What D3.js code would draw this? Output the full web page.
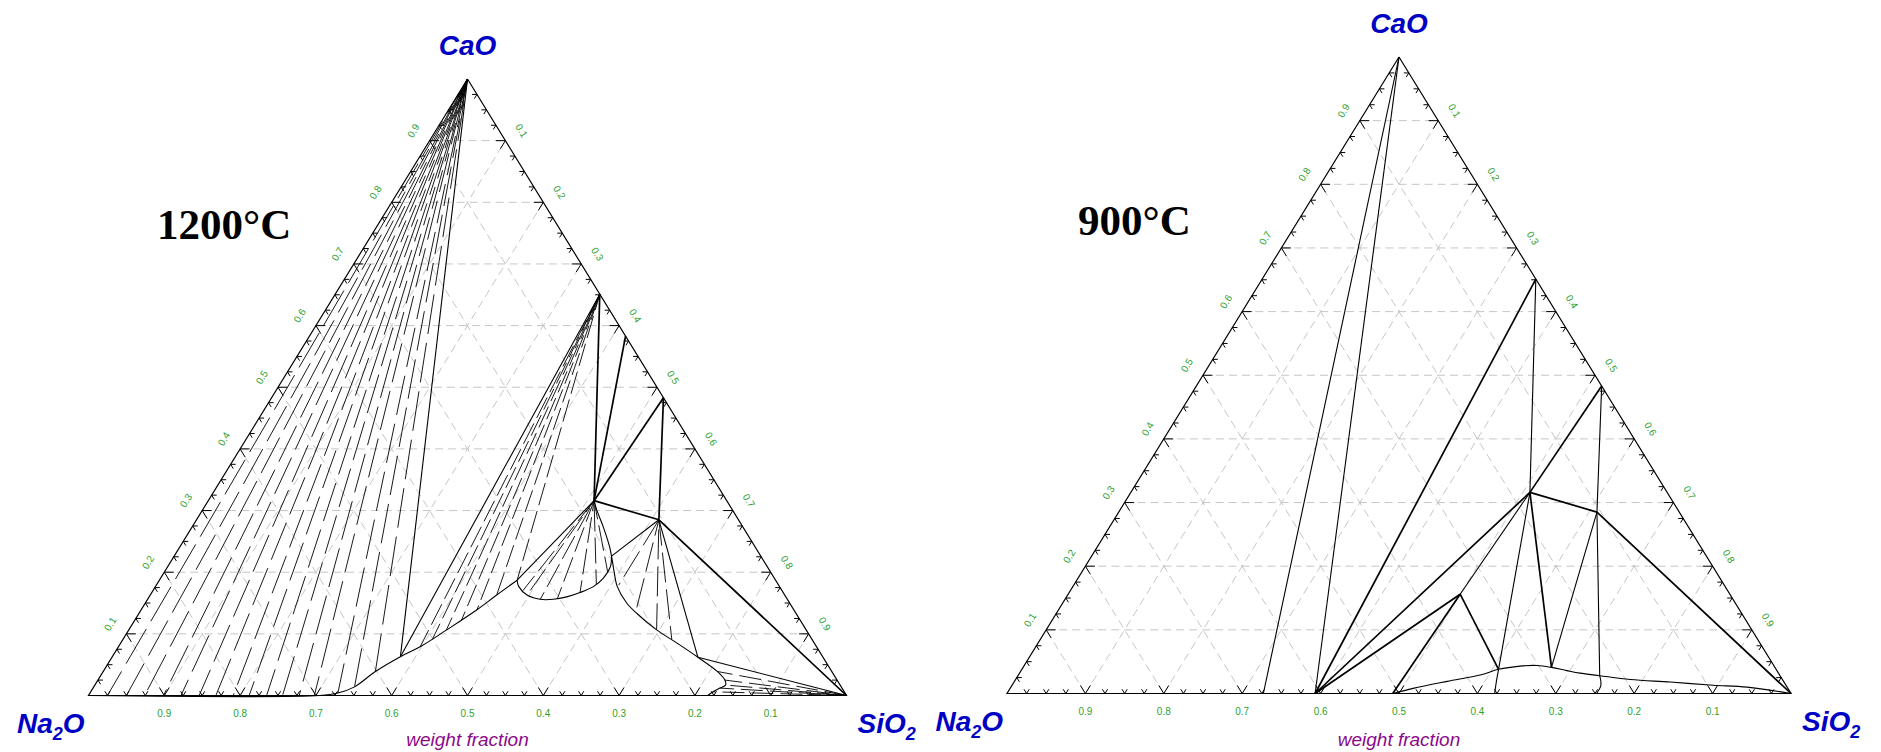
<!DOCTYPE html>
<html>
<head>
<meta charset="utf-8">
<script src="https://cdn.jsdelivr.net/npm/d3@7"></script>
<style>
  html, body { margin: 0; padding: 0; background: #fff; }
  svg { display: block; }
</style>
</head>
<body>
<svg id="chart" width="1881" height="752"></svg>
<script>
// Na2O-CaO-SiO2 isothermal sections (1200 °C and 900 °C)
// every composition is a weight-fraction pair [CaO, SiO2]; Na2O = 1 - CaO - SiO2

const tickValues = [0.1, 0.2, 0.3, 0.4, 0.5, 0.6, 0.7, 0.8, 0.9];
const tickLabels = ['0.1', '0.2', '0.3', '0.4', '0.5', '0.6', '0.7', '0.8', '0.9'];
const temperatures = ['1200°C', '900°C'];

// corners and stoichiometric compounds
const CAO = [1, 0], SIO2 = [0, 1];
const C2S = [0.651, 0.349], C3S2 = [0.583, 0.417], CS = [0.483, 0.517];
const NC2S3 = [0.316, 0.509], NC3S6 = [0.285, 0.610], N2CS3 = [0.156, 0.500];
const N2S = [0, 0.327], N3S2 = [0, 0.393], NS = [0, 0.492];

// ---- 1200 °C ----
const hiL1 = [0.063, 0.380], hiL2 = [0.187, 0.472], hiL3 = [0.226, 0.577], hiL4 = [0.062, 0.773];
const hiLiquidusLeft = [[0, 0], [0, 0.305], [0.004, 0.327], [0.014, 0.344], [0.039, 0.359], [0.063, 0.380],
  [0.079, 0.398], [0.106, 0.419], [0.139, 0.443], [0.163, 0.457], [0.187, 0.472]];
const hiLens = [[0.187, 0.472], [0.177, 0.479], [0.163, 0.497], [0.156, 0.518], [0.156, 0.535], [0.160, 0.551],
  [0.167, 0.565], [0.177, 0.578], [0.190, 0.584], [0.209, 0.584], [0.226, 0.577]];
const hiLiquidusRight = [[0.316, 0.509], [0.301, 0.520], [0.274, 0.542], [0.241, 0.567], [0.226, 0.577],
  [0.204, 0.591], [0.177, 0.609], [0.150, 0.635], [0.133, 0.657], [0.106, 0.697], [0.085, 0.734],
  [0.062, 0.773], [0.039, 0.810], [0.025, 0.827], [0.017, 0.832], [0.012, 0.827], [0.006, 0.821], [0, 0.817]];
const hiBonds = [[C2S, NC2S3], [C3S2, NC2S3], [CS, NC2S3], [CS, NC3S6], [NC2S3, NC3S6], [NC3S6, SIO2]];
const hiEdges = [[CAO, hiL1], [C2S, hiL1], [NC2S3, hiL2], [NC3S6, hiL3], [NC3S6, hiL4], [hiL4, SIO2]];
const hiCaoTies = [[0, 0.025], [0, 0.050], [0, 0.074], [0, 0.099], [0, 0.122], [0, 0.146], [0, 0.168],
  [0, 0.191], [0, 0.212], [0, 0.235], [0, 0.256], [0, 0.278], [0, 0.298],
  [0.004, 0.327], [0.014, 0.344], [0.039, 0.359]];
const hiC2STies = [[0.079, 0.398], [0.092, 0.408], [0.106, 0.419], [0.122, 0.431], [0.139, 0.443],
  [0.163, 0.457], [0.187, 0.472]];
const hiNC2S3Ties = [[0.170, 0.488], [0.163, 0.497], [0.156, 0.518], [0.157, 0.540], [0.167, 0.565],
  [0.180, 0.580], [0.200, 0.585]];
const hiNC3S6Ties = [[0.179, 0.610], [0.136, 0.654], [0.107, 0.696], [0.091, 0.724]];
const hiSilicaTies = [[0.039, 0.810], [0.025, 0.827], [0.017, 0.832], [0.012, 0.827], [0.006, 0.821]];

// ---- 900 °C ----
const loK1 = [0.038, 0.608], loK2 = [0.041, 0.674], loK3 = [0.028, 0.742];
const loLiquidus = [[0, 0.492], [0.008, 0.514], [0.019, 0.552], [0.029, 0.589], [0.038, 0.608], [0.043, 0.633],
  [0.044, 0.654], [0.041, 0.674], [0.036, 0.696], [0.032, 0.715], [0.028, 0.742], [0.022, 0.784],
  [0.018, 0.837], [0.013, 0.894], [0.010, 0.939], [0, 1]];
const loDrops = [[[0.038, 0.608], [0.021, 0.614], [0, 0.622]], [[0.028, 0.742], [0.013, 0.751], [0, 0.752]]];
const loBonds = [[C2S, N3S2], [CS, NC2S3], [NC2S3, NC3S6], [NC3S6, SIO2], [N3S2, NC2S3], [N3S2, N2CS3],
  [N2CS3, NS], [N2CS3, loK1], [NC2S3, loK2]];
const loEdges = [[CAO, N2S], [CAO, N3S2], [C2S, NC2S3], [CS, NC3S6], [NC2S3, N2CS3], [NC2S3, loK1],
  [NC3S6, loK2], [NC3S6, loK3]];

// layout of the two triangles (pixels)
const frames = [
  { left: 88.5, right: 846.5, bottom: 695.5, top: 79, titleX: 157, titleY: 239 },
  { left: 1007, right: 1791, bottom: 693.5, top: 57, titleX: 1078, titleY: 235 }
];

const svg = d3.select('#chart');

function makeProjection(frame) {
  const x = d3.scaleLinear().domain([0, 1]).range([frame.left, frame.right]);
  const y = d3.scaleLinear().domain([0, 1]).range([frame.bottom, frame.top]);
  return { x: d => x(d[1] + d[0] / 2), y: d => y(d[0]) };
}

function drawGrid(g, P) {
  const straight = d3.line().x(P.x).y(P.y);

  // dashed grid, three families
  const grid = [];
  tickValues.forEach(v => {
    grid.push([[v, 0], [v, 1 - v]]);
    grid.push([[0, v], [1 - v, v]]);
    grid.push([[0, 1 - v], [1 - v, 0]]);
  });
  g.selectAll('.grid').data(grid).enter().append('path')
    .attr('class', 'grid')
    .attr('d', straight)
    .style('fill', 'none')
    .style('stroke', '#c6c6c6')
    .style('stroke-width', 1)
    .style('stroke-dasharray', '8,5');
}

function drawAxes(g, P, frame, title) {
  const W = frame.right - frame.left;
  const H = frame.bottom - frame.top;
  const len = Math.hypot(W / 2, H);
  const theta = Math.atan2(H, W / 2) * 180 / Math.PI;

  // outline
  g.append('path')
    .attr('d', d3.line().x(P.x).y(P.y)([CAO, [0, 0], SIO2, CAO]))
    .style('fill', 'none')
    .style('stroke', '#000')
    .style('stroke-width', 1.2)
    .style('stroke-linejoin', 'miter');

  // ticks: two arms along the grid directions at every 0.025
  const edges = [
    { at: t => [0, t], arms: [[1, 0], [1, -1]] },
    { at: t => [t, 0], arms: [[0, 1], [-1, 1]] },
    { at: t => [1 - t, t], arms: [[0, -1], [-1, 0]] }
  ];
  const ticks = [];
  edges.forEach(e => {
    d3.range(1, 40).forEach(i => {
      const p = e.at(i / 40);
      const size = i % 4 === 0 ? 9.5 : 5;
      e.arms.forEach(a => {
        const q = [p[0] + a[0] * 0.01, p[1] + a[1] * 0.01];
        const dx = P.x(q) - P.x(p), dy = P.y(q) - P.y(p);
        const n = Math.hypot(dx, dy);
        ticks.push({ x1: P.x(p), y1: P.y(p), x2: P.x(p) + dx / n * size, y2: P.y(p) + dy / n * size });
      });
    });
  });
  g.selectAll('.tick').data(ticks).enter().append('line')
    .attr('class', 'tick')
    .attr('x1', d => d.x1).attr('y1', d => d.y1)
    .attr('x2', d => d.x2).attr('y2', d => d.y2)
    .style('stroke', '#000')
    .style('stroke-width', 1);

  const labelStyle = sel => sel
    .style('font-family', '"Liberation Sans", Arial, sans-serif')
    .style('font-size', '10px')
    .style('fill', '#2f9f2f')
    .style('text-anchor', 'middle')
    .style('dominant-baseline', 'central');

  // bottom: Na2O
  g.selectAll('.lab-b').data(tickValues).enter().append('text')
    .attr('class', 'lab-b')
    .attr('x', v => P.x([0, 1 - v]))
    .attr('y', frame.bottom + 18)
    .text((v, i) => tickLabels[i])
    .call(labelStyle);

  // left: CaO
  const nl = [-H / len * 19, -(W / 2) / len * 19];
  g.selectAll('.lab-l').data(tickValues).enter().append('text')
    .attr('class', 'lab-l')
    .attr('transform', v => `translate(${P.x([v, 0]) + nl[0]},${P.y([v, 0]) + nl[1]}) rotate(${-theta})`)
    .text((v, i) => tickLabels[i])
    .call(labelStyle);

  // right: SiO2
  const nr = [H / len * 19, -(W / 2) / len * 19];
  g.selectAll('.lab-r').data(tickValues).enter().append('text')
    .attr('class', 'lab-r')
    .attr('transform', v => `translate(${P.x([1 - v, v]) + nr[0]},${P.y([1 - v, v]) + nr[1]}) rotate(${theta})`)
    .text((v, i) => tickLabels[i])
    .call(labelStyle);

  // component names
  const nameStyle = sel => sel
    .style('font-family', '"Liberation Sans", Arial, sans-serif')
    .style('font-size', '28px')
    .style('font-weight', 'bold')
    .style('font-style', 'italic')
    .style('fill', '#0000c4');

  g.append('text')
    .attr('x', P.x(CAO)).attr('y', P.y(CAO) - 24)
    .style('text-anchor', 'middle')
    .text('CaO')
    .call(nameStyle);

  const na = g.append('text')
    .attr('x', frame.left - 4).attr('y', frame.bottom + 37)
    .style('text-anchor', 'end')
    .call(nameStyle);
  na.append('tspan').text('Na');
  na.append('tspan').attr('dy', 7).style('font-size', '18px').text('2');
  na.append('tspan').attr('dy', -7).text('O');

  const si = g.append('text')
    .attr('x', frame.right + 11).attr('y', frame.bottom + 37)
    .style('text-anchor', 'start')
    .call(nameStyle);
  si.append('tspan').text('SiO');
  si.append('tspan').attr('dy', 7).style('font-size', '18px').text('2');

  g.append('text')
    .attr('x', (frame.left + frame.right) / 2).attr('y', 746)
    .style('text-anchor', 'middle')
    .style('font-family', '"Liberation Sans", Arial, sans-serif')
    .style('font-size', '19px')
    .style('font-style', 'italic')
    .style('fill', '#8a0a8a')
    .text('weight fraction');

  g.append('text')
    .attr('x', frame.titleX).attr('y', frame.titleY)
    .style('font-family', '"Liberation Serif", "Times New Roman", serif')
    .style('font-size', '43px')
    .style('font-weight', 'bold')
    .style('fill', '#000')
    .text(title);
}

function drawSegments(g, P, pairs, width) {
  const straight = d3.line().x(P.x).y(P.y);
  g.append('g').selectAll('path').data(pairs).enter().append('path')
    .attr('d', straight)
    .style('fill', 'none')
    .style('stroke', '#000')
    .style('stroke-width', width);
}

// tie lines: dashed, with the gaps staggered from one line to the next
function drawFan(g, P, origin, ends, dash, gap) {
  const straight = d3.line().x(P.x).y(P.y);
  const period = dash + gap;
  g.append('g').selectAll('path').data(ends.map(e => [origin, e])).enter().append('path')
    .attr('d', straight)
    .style('fill', 'none')
    .style('stroke', '#000')
    .style('stroke-width', 0.9)
    .style('stroke-dasharray', `${dash},${gap}`)
    .style('stroke-dashoffset', (d, i) => (i * period * 0.37) % period);
}

function drawCurve(g, P, points, width) {
  const smooth = d3.line().x(P.x).y(P.y).curve(d3.curveCatmullRom.alpha(0.5));
  g.append('path')
    .attr('d', smooth(points))
    .style('fill', 'none')
    .style('stroke', '#000')
    .style('stroke-width', width);
}

// ---- left panel: 1200 °C ----
const hiP = makeProjection(frames[0]);
const hiG = svg.append('g').attr('class', 'section-1200');
drawGrid(hiG, hiP);
drawFan(hiG, hiP, CAO, hiCaoTies, 40, 9);
drawFan(hiG, hiP, C2S, hiC2STies, 23, 6);
drawFan(hiG, hiP, NC2S3, hiNC2S3Ties, 26, 6);
drawFan(hiG, hiP, NC3S6, hiNC3S6Ties, 30, 7);
drawFan(hiG, hiP, SIO2, hiSilicaTies, 22, 7);
drawCurve(hiG, hiP, hiLiquidusLeft, 1.1);
drawCurve(hiG, hiP, hiLens, 1.1);
drawCurve(hiG, hiP, hiLiquidusRight, 1.1);
drawSegments(hiG, hiP, hiEdges, 1.1);
drawSegments(hiG, hiP, hiBonds, 1.7);
drawAxes(hiG, hiP, frames[0], temperatures[0]);

// ---- right panel: 900 °C ----
const loP = makeProjection(frames[1]);
const loG = svg.append('g').attr('class', 'section-900');
drawGrid(loG, loP);
drawCurve(loG, loP, loLiquidus, 1.1);
loDrops.forEach(d => drawCurve(loG, loP, d, 1.1));
drawSegments(loG, loP, loEdges, 1.1);
drawSegments(loG, loP, loBonds, 1.7);
drawAxes(loG, loP, frames[1], temperatures[1]);
</script>
</body>
</html>
